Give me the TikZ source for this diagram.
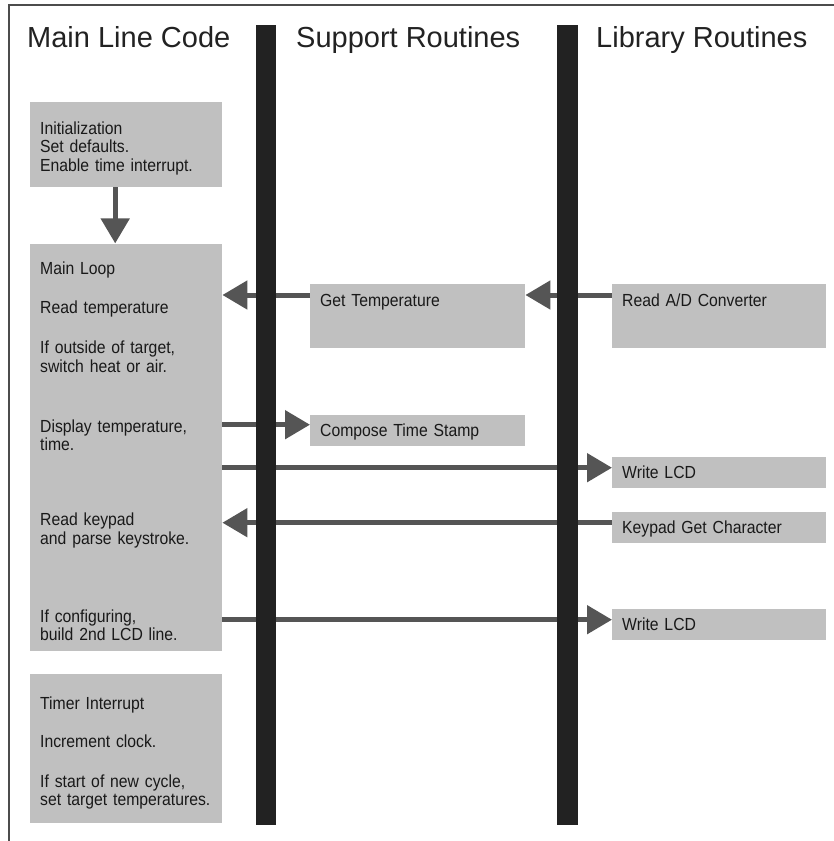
\documentclass[tikz,border=0pt]{standalone}
\usepackage{fontspec}
\setmainfont{Liberation Sans}
\newfontfamily\narrowfont{Liberation Sans}[FakeStretch=0.9]
\usetikzlibrary{positioning}
\usetikzlibrary{arrows.meta}
\definecolor{boxgray}{RGB}{192,192,192}
\definecolor{bargray}{RGB}{34,34,34}
\definecolor{arrowgray}{RGB}{85,85,85}
\definecolor{textgray}{RGB}{25,25,25}
\tikzset{
   box/.style = {%
    shape=rectangle,
    fill=boxgray,
    anchor=north west,
    align=left,
    inner xsep=10pt, inner ysep=0pt,
    text=textgray,
    font=\narrowfont\fontsize{17.5}{18.5}\selectfont},
  call/.style = {box, text width=194pt, text height=21pt, text depth=10pt},
 arrow/.style = {%
    draw=arrowgray,
    line width=5pt,
    -{Triangle[length=25pt,width=28pt]}},
  lift/.style = {transform canvas={yshift=#1}},
  head/.style = {anchor=base west, inner sep=0pt, text=bargray, font=\fontsize{29}{34}\selectfont},
   bar/.style = {fill=bargray},
 frame/.style = {draw=black!70, line width=2.5pt},
    }

\begin{document}
\begin{tikzpicture}[x=1pt, y=-1pt]
    \useasboundingbox (0,0) rectangle (834,841);
    \draw[frame] (9,841) -- (9,5) -- (834,5);

    % column titles
    \node[head] (mainhd) at (27,47)  {Main Line Code};
    \node[head] (supphd) at (296,47) {Support Routines};
    \node[head] (libhd)  at (596,47) {Library Routines};

    % main line code
    \node[box, text width=172pt, text height=32pt, text depth=53pt] (init) at (30,102)
        {Initialization\\Set defaults.\\Enable time interrupt.};
    \node[box, text width=172pt, text height=31pt, text depth=376pt,
          below=56pt of init.south west, anchor=north west] (mainloop)
        {Main Loop\\[20.5pt]
         Read temperature\\[21.5pt]
         If outside of target,\\switch heat or air.\\[41.5pt]
         Display temperature,\\time.\\[56.5pt]
         Read keypad\\and parse keystroke.\\[59.5pt]
         If configuring,\\build 2nd LCD line.};
    \node[box, text width=172pt, text height=35pt, text depth=114pt,
          below=23pt of mainloop.south west, anchor=north west] (timer)
        {Timer Interrupt\\[19.5pt]
         Increment clock.\\[21.5pt]
         If start of new cycle,\\set target temperatures.};

    % support and library routines
    \node[call, text width=195pt, text height=22pt, text depth=42pt] (gettemp) at (310,284) {Get Temperature};
    \node[call, text height=22pt, text depth=42pt] (readad) at (612,284) {Read A/D Converter};
    \node[call, text width=195pt] (compose) at (310,415) {Compose Time Stamp};
    \node[call] (lcda)   at (612,457) {Write LCD};
    \node[call] (keypad) at (612,512) {Keypad Get Character};
    \node[call] (lcdb)   at (612,609) {Write LCD};

    \draw[arrow, transform canvas={xshift=-11pt}] (init.south) -- (mainloop.north);
    \draw[arrow, lift=-11pt] (gettemp.north west) -- (gettemp.north west -| mainloop.east);
    \draw[arrow, lift=-11pt] (readad.north west) -- (gettemp.north east);
    \draw[arrow, lift=6pt] (mainloop.east |- compose.west) -- (compose.west);
    \draw[arrow, lift=5pt] (mainloop.east |- lcda.west) -- (lcda.west);
    \draw[arrow, lift=5pt] (keypad.west) -- (mainloop.east |- keypad.west);
    \draw[arrow, lift=5pt] (mainloop.east |- lcdb.west) -- (lcdb.west);

    % column dividers, over the arrows
    \fill[bar] (256,25) rectangle (276,825);
    \fill[bar] (557,25) rectangle (578,825);
\end{tikzpicture}
\end{document}
